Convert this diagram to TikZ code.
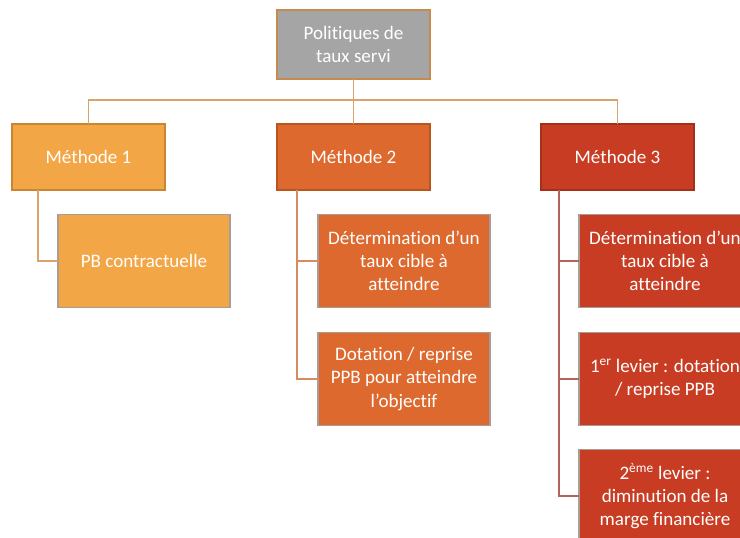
\documentclass[tikz,border=0pt]{standalone}
\usepackage{fontspec}
\setmainfont{Carlito}[RawFeature={-liga;-clig;-dlig}]
\usetikzlibrary{calc}

\definecolor{gris}{HTML}{A5A5A5}
\definecolor{orange1}{HTML}{F3A645}
\definecolor{orange2}{HTML}{DD692F}
\definecolor{rouge3}{HTML}{C73C22}
\definecolor{bord1}{HTML}{C98532}
\definecolor{bord2}{HTML}{B9561F}
\definecolor{bord3}{HTML}{A33019}
\definecolor{bordtete}{HTML}{C58A4C}
\definecolor{bordfils}{HTML}{A89C94}
\definecolor{lien1}{HTML}{D9A36A}
\definecolor{lien2}{HTML}{D88A60}
\definecolor{lien3}{HTML}{B4645A}

\begin{document}
\begin{tikzpicture}[x=0.75pt,y=-0.75pt,
  every node/.style={rectangle, align=center, text=white, inner sep=0pt, outer sep=0pt,
    line width=0.9pt, font=\fontsize{14.3}{17.3}\selectfont},
  tete/.style={fill=gris, draw=bordtete, minimum width=114.75pt, minimum height=51.75pt},
  methode/.style={minimum width=114.75pt, minimum height=49.5pt},
  fils/.style={draw=bordfils, minimum width=129pt, minimum height=70pt},
  lien/.style={line width=1.1pt}]
\useasboundingbox (0,0) rectangle (740,538);
\clip (0,0) rectangle (740,538);

% racine et methodes
\node[tete] (racine) at (353.5,44.5) {Politiques de\\taux servi};
\node[methode, fill=orange1, draw=bord1] (m1) at (88.5,157) {Méthode 1};
\node[methode, fill=orange2, draw=bord2] (m2) at (353.5,157) {Méthode 2};
\node[methode, fill=rouge3, draw=bord3] (m3) at (617.5,157) {Méthode 3};

% sous-boites
\node[fils, fill=orange1] (pb) at (144,261) {PB contractuelle};
\node[fils, fill=orange2] (c21) at (404,261) {Détermination d’un\\taux cible à\\atteindre};
\node[fils, fill=orange2] (c22) at (404,379) {Dotation / reprise\\PPB pour atteindre\\l’objectif};
\node[fils, fill=rouge3] (c31) at (665,261) {Détermination d’un\\taux cible à\\atteindre};
\node[fils, fill=rouge3] (c32) at (665,379) {1\textsuperscript{er} levier : dotation\\/ reprise PPB};
\node[fils, fill=rouge3] (c33) at (665,496) {2\textsuperscript{ème} levier :\\diminution de la\\marge financière};

% liens
\draw[lien, lien1] (racine.south) -- ++(0,21) -| (m1.north);
\draw[lien, lien1] (racine.south) -- ++(0,21) -| (m3.north);
\draw[lien, lien1] (racine.south) -- (m2.north);

\coordinate (k1) at ($(pb.west)+(-20,0)$);
\draw[lien, lien1] (k1 |- m1.south) |- (pb.west);

\coordinate (k2) at ($(c21.west)+(-21,0)$);
\draw[lien, lien2] (k2 |- m2.south) |- (c21.west);
\draw[lien, lien2] (k2 |- m2.south) |- (c22.west);

\coordinate (k3) at ($(c31.west)+(-20,0)$);
\draw[lien, lien3] (k3 |- m3.south) |- (c31.west);
\draw[lien, lien3] (k3 |- m3.south) |- (c32.west);
\draw[lien, lien3] (k3 |- m3.south) |- (c33.west);
\end{tikzpicture}
\end{document}
